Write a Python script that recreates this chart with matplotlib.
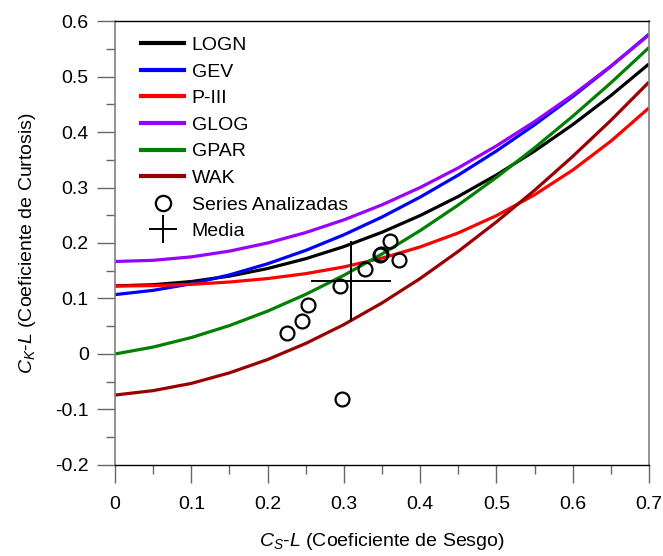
import numpy as np
import matplotlib
matplotlib.use("Agg")
import matplotlib.pyplot as plt
from matplotlib.lines import Line2D

plt.rcParams['font.family'] = ['Liberation Sans', 'DejaVu Sans']
plt.rcParams['mathtext.fontset'] = 'custom'
plt.rcParams['mathtext.rm'] = 'Liberation Sans'
plt.rcParams['mathtext.it'] = 'Liberation Sans:italic'

# L-skewness grid shared by all theoretical curves
cs_grid = [0.00, 0.05, 0.10, 0.15, 0.20, 0.25, 0.30, 0.35,
           0.40, 0.45, 0.50, 0.55, 0.60, 0.65, 0.70]

# L-kurtosis of each distribution along the grid
ck_logn = [0.1228, 0.1248, 0.1306, 0.1403, 0.1540, 0.1717, 0.1935, 0.2194,
           0.2495, 0.2839, 0.3226, 0.3657, 0.4133, 0.4656, 0.5227]
ck_gev = [0.1070, 0.1147, 0.1265, 0.1425, 0.1626, 0.1867, 0.2148, 0.2468,
          0.2827, 0.3224, 0.3658, 0.4130, 0.4638, 0.5182, 0.5762]
ck_pe3 = [0.1224, 0.1232, 0.1255, 0.1297, 0.1359, 0.1448, 0.1569, 0.1727,
          0.1929, 0.2182, 0.2493, 0.2869, 0.3314, 0.3835, 0.4435]
ck_glog = [0.1667, 0.1688, 0.1750, 0.1854, 0.2000, 0.2188, 0.2417, 0.2688,
           0.3000, 0.3354, 0.3750, 0.4188, 0.4667, 0.5188, 0.5750]
ck_gpar = [0.0000, 0.0125, 0.0296, 0.0512, 0.0772, 0.1075, 0.1418, 0.1802,
           0.2224, 0.2685, 0.3182, 0.3715, 0.4284, 0.4886, 0.5522]
ck_wak = [-0.074, -0.066, -0.053, -0.034, -0.010, 0.019, 0.053, 0.092,
          0.136, 0.185, 0.238, 0.295, 0.356, 0.421, 0.490]

curve_names = ['LOGN', 'GEV', 'P-III', 'GLOG', 'GPAR', 'WAK']
curve_colors = ['black', '#0000ff', '#ff0000', '#9900ff', '#008000', '#990000']

# sample L-moment ratios of the analysed series
series_cs = [0.226, 0.245, 0.253, 0.295, 0.328, 0.347, 0.349, 0.361, 0.372, 0.298]
series_ck = [0.037, 0.059, 0.088, 0.122, 0.153, 0.178, 0.181, 0.204, 0.169, -0.081]

# regional mean
mean_cs = 0.309
mean_ck = 0.132

fig = plt.figure(figsize=(6.63, 5.56), dpi=100)
ax = fig.add_axes([0.1735, 0.1637, 0.8054, 0.7985])

curves = [ck_logn, ck_gev, ck_pe3, ck_glog, ck_gpar, ck_wak]
for name, col, ck in zip(curve_names, curve_colors, curves):
    ax.plot(cs_grid, ck, color=col, lw=2.3, label=name, solid_capstyle='butt')

ax.plot(series_cs, series_ck, ls='none', marker='o', ms=10,
        mfc='none', mec='black', mew=1.6)
ax.plot([mean_cs], [mean_ck], ls='none', marker='+', ms=58,
        mec='black', mew=1.4)

ax.set_xlim(0, 0.7)
ax.set_ylim(-0.2, 0.6)
ax.set_xticks(np.arange(0, 0.71, 0.1))
ax.set_xticks(np.arange(0.05, 0.7, 0.1), minor=True)
ax.set_yticks(np.arange(-0.2, 0.61, 0.1))
ax.set_yticks(np.arange(-0.15, 0.6, 0.1), minor=True)
ax.set_xticklabels(['0', '0.1', '0.2', '0.3', '0.4', '0.5', '0.6', '0.7'])
ax.set_yticklabels(['-0.2', '-0.1', '0', '0.1', '0.2', '0.3', '0.4', '0.5', '0.6'])

ax.tick_params(which='major', direction='out', length=13, width=1,
               color='0.4', labelsize=14)
ax.tick_params(which='minor', direction='out', length=6.5, width=1, color='0.4')
ax.tick_params(axis='x', which='major', pad=9)
ax.tick_params(axis='y', which='major', pad=6)

for side in ['left', 'right']:
    ax.spines[side].set_color('0.5')
    ax.spines[side].set_linewidth(1.2)
for side in ['top', 'bottom']:
    ax.spines[side].set_color('black')
    ax.spines[side].set_linewidth(1.0)

ax.set_xlabel(r'$C_S$-$L$ (Coeficiente de Sesgo)', fontsize=14, labelpad=13)
ax.set_ylabel(r'$C_K$-$L$ (Coeficiente de Curtosis)', fontsize=14, labelpad=12)

handles = [Line2D([], [], color=c, lw=3) for c in curve_colors]
handles.append(Line2D([], [], ls='none', marker='o', ms=11,
                      mfc='none', mec='black', mew=1.6))
handles.append(Line2D([], [], ls='none', marker='+', ms=20,
                      mec='black', mew=1.4))
labels = curve_names + ['Series Analizadas', 'Media']
ax.legend(handles, labels, loc='upper left', frameon=False, fontsize=14,
          handlelength=2.2, handletextpad=0.4, labelspacing=0.46,
          borderaxespad=0.4, bbox_to_anchor=(0.02, 1.0))

fig.savefig('out.png', dpi=100)
